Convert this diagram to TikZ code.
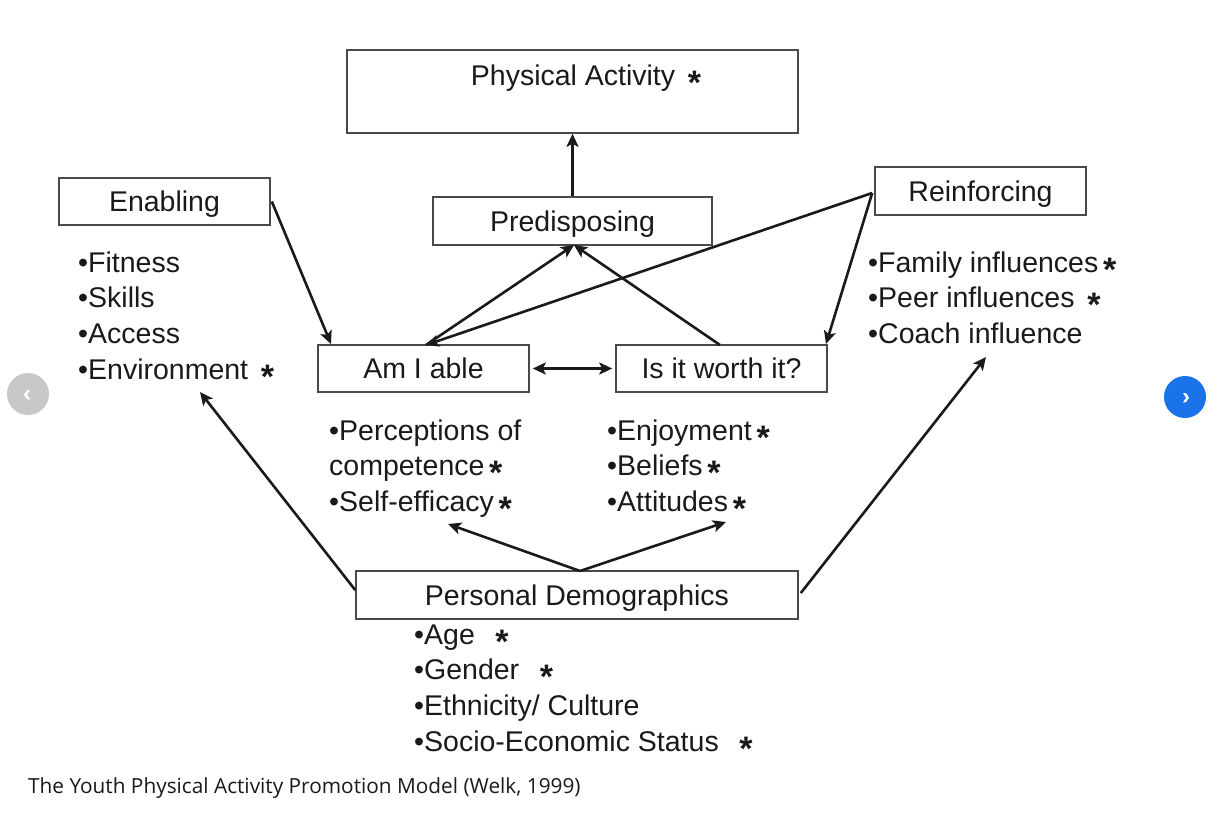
\documentclass[tikz,border=0pt]{standalone}
\usepackage{fontspec}
\setmainfont{Liberation Sans}
\newfontfamily\capfont{Open Sans}
\usetikzlibrary{arrows.meta}
\newcommand{\astmark}{\,\raisebox{-9pt}{\fontsize{34}{34}\selectfont\bfseries *}}
\definecolor{ink}{HTML}{1A1A1A}
\definecolor{frame}{HTML}{4A4A4A}
\definecolor{navblue}{HTML}{1A73E8}
\definecolor{navgray}{HTML}{C8C8C8}
\begin{document}
\begin{tikzpicture}[x=1pt,y=-1pt,
  every node/.style={text=ink,font=\fontsize{28.5}{35.6}\selectfont},
  box/.style={draw=frame,line width=1.6pt,inner sep=0pt,text height=20.5pt,text depth=0pt},
  label/.style={inner sep=0pt,text height=20.5pt,text depth=0pt},
  listtext/.style={inner sep=0pt,anchor=north west,align=left},
  arr/.style={draw=ink,line width=2.6pt,-{Stealth[length=13pt,width=12pt,inset=3pt]}},
  darr/.style={draw=ink,line width=2.6pt,{Stealth[length=13pt,width=12pt,inset=3pt]}-{Stealth[length=13pt,width=12pt,inset=3pt]}}]
\useasboundingbox (0,0) rectangle (1218,825);
\fill[white] (0,0) rectangle (1218,825);

% boxes
\node[box,minimum width=451pt,minimum height=83pt] (pa) at (572.5,91.5) {};
\node[label] (patext) at (586,75) {Physical Activity \astmark};
\node[box,minimum width=279pt,minimum height=48pt] (pre) at (572.5,221) {Predisposing};
\node[box,minimum width=211pt,minimum height=47pt] (en) at (164.5,201.5) {Enabling};
\node[box,minimum width=211pt,minimum height=48pt] (re) at (980.5,191) {Reinforcing};
\node[box,minimum width=211pt,minimum height=47pt] (able) at (423.5,368.5) {Am I able};
\node[box,minimum width=211pt,minimum height=47pt] (worth) at (721.5,368.5) {Is it worth it?};
\node[box,minimum width=442pt,minimum height=48pt] (pd) at (577,595) {Personal Demographics};

% lists
\node[listtext] (enl) at (78,251.5) {•Fitness\\•Skills\\•Access\\•Environment \astmark};
\node[listtext] (rel) at (868,251.5) {•Family influences\astmark\\•Peer influences \astmark\\•Coach influence};
\node[listtext] (ablel) at (329,419.5) {•Perceptions of\\competence\astmark\\•Self-efficacy\astmark};
\node[listtext] (worthl) at (607,419.5) {•Enjoyment\astmark\\•Beliefs\astmark\\•Attitudes\astmark};
\node[listtext] (pdl) at (414,624.5) {•Age \ \astmark\\•Gender \ \astmark\\•Ethnicity/ Culture\\•Socio-Economic Status \ \astmark};

% caption
\node[label,anchor=west,text height=15pt,font=\capfont\fontsize{20.8}{24}\selectfont] (cap) at (28,786) {The Youth Physical Activity Promotion Model (Welk, 1999)};

% anchor points for the connectors
\coordinate (ableTop) at (426,345);
\coordinate (preBot) at (574,245);
\coordinate (pdTop) at (580,571);
\coordinate (ableL) at (448,524);
\coordinate (worthL) at (726,522);
\coordinate (enlEnd) at (200,392);
\coordinate (relEnd) at (986,357);

% connectors
\draw[arr] (pre.north) -- (pa.south);
\draw[arr] (en.east) ++(1,0) coordinate (enS) (enS) -- (331,344);
\draw[arr] (ableTop) -- (preBot);
\draw[arr] (720,345) -- (preBot);
\draw[arr] (re.west) ++(-2,2) coordinate (reS) (reS) -- (ableTop);
\draw[arr] (reS) -- (826,344);
\draw[darr] (able.east) ++(3,0) coordinate (abE) (worth.west) ++(-3,0) coordinate (woW) (abE) -- (woW);
\draw[arr] (pdTop) -- (ableL);
\draw[arr] (pdTop) -- (worthL);
\draw[arr] (pd.west) ++(0,-5) coordinate (pdW) (pdW) -- (enlEnd);
\draw[arr] (pd.east) ++(2,-2) coordinate (pdE) (pdE) -- (relEnd);

% carousel buttons
\fill[navgray] (28,394) circle (21);
\node[text=white,text height=14pt,text depth=0pt,font=\bfseries\fontsize{24}{24}\selectfont] (prev) at (27,394) {‹};
\fill[navblue] (1185,397) circle (21);
\node[text=white,text height=14pt,text depth=0pt,font=\bfseries\fontsize{24}{24}\selectfont] (next) at (1186,397) {›};
\end{tikzpicture}
\end{document}
